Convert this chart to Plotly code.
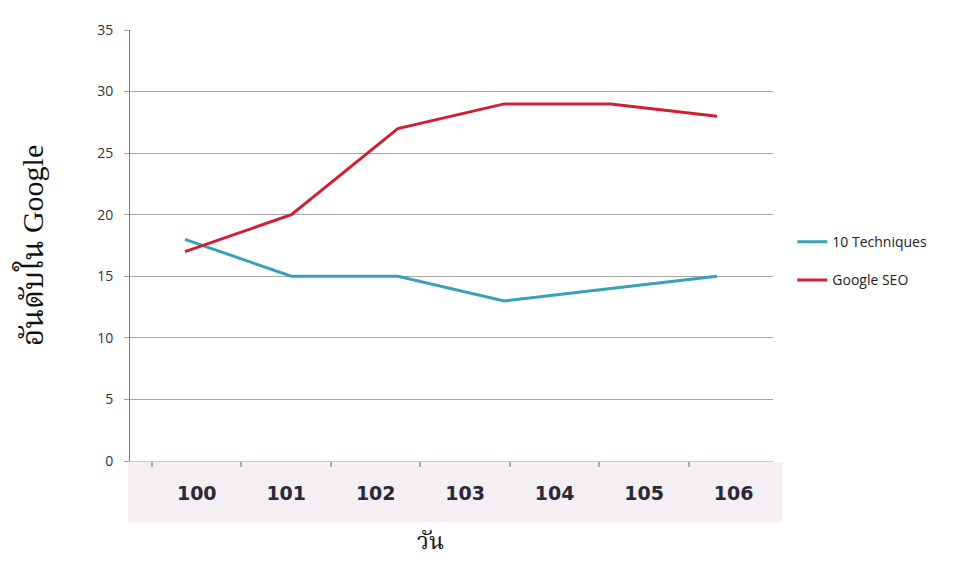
import plotly.graph_objects as go

days = ["100", "101", "102", "103", "104", "105", "106"]
point_idx = [0, 1, 2, 3, 4, 5]
techniques = [18, 15, 15, 13, 14, 15]
google_seo = [17, 20, 27, 29, 29, 28]
y_ticks = [0, 5, 10, 15, 20, 25, 30, 35]

TEAL = "#37a2b7"
RED = "#d21f30"
GRID = "#a6a6a6"

fig = go.Figure()
fig.add_trace(go.Scatter(x=point_idx, y=techniques, mode="lines", name="10 Techniques",
                         legendgroup="a", line=dict(color=TEAL, width=3)))
fig.add_trace(go.Scatter(x=point_idx, y=google_seo, mode="lines", name="Google SEO",
                         legendgroup="b", line=dict(color=RED, width=3)))
# invisible trace to carry the category axis of day labels
fig.add_trace(go.Scatter(x=days, y=[None] * len(days), xaxis="x2", mode="lines",
                         showlegend=False, hoverinfo="skip"))

fig.update_layout(
    width=942, height=547,
    margin=dict(l=122, r=177, t=12, b=94),
    paper_bgcolor="white", plot_bgcolor="white",
    font=dict(family="Open Sans, DejaVu Sans, sans-serif", color="#333333"),
    showlegend=True,
    legend=dict(x=1.03, y=0.545, xanchor="left", yanchor="top",
                font=dict(size=14, color="#222222"), tracegroupgap=17,
                bgcolor="rgba(0,0,0,0)", itemwidth=30),
    xaxis=dict(range=[-0.517, 5.526], showgrid=False, zeroline=False,
               showticklabels=False, ticks="", showline=False),
    xaxis2=dict(type="category", categoryorder="array", categoryarray=days,
                overlaying="x", anchor="y", side="bottom",
                range=[-0.746, 6.44], tickson="boundaries", ticks="outside",
                ticklen=5, tickwidth=2, tickcolor="#aaaaaa",
                showline=True, linecolor="#c8c8c8", linewidth=1,
                showgrid=False, zeroline=False, ticklabelstandoff=15,
                tickfont=dict(family="DejaVu Sans", size=19, color="#2b2838",
                              weight="bold")),
    yaxis=dict(range=[0, 35], tickvals=y_ticks, showgrid=True, gridcolor=GRID,
               gridwidth=1, zeroline=False, showline=True, linecolor="#777777",
               linewidth=1, ticks="outside", ticklen=5, tickcolor=GRID,
               ticklabelstandoff=8,
               tickfont=dict(size=14, color="#333333"),
               title=dict(text="อันดับใน Google", standoff=44,
                          font=dict(family="Liberation Serif, Noto Serif Thai, serif",
                                    size=30, color="#111111"))),
    shapes=[dict(type="rect", xref="paper", yref="paper", x0=-0.003, x1=1.015,
                 y0=-0.003, y1=-0.142, fillcolor="#f4eff3", line=dict(width=0),
                 layer="below")],
    annotations=[dict(text="วัน", xref="paper", yref="paper", x=0.467, y=-0.187,
                      xanchor="center", yanchor="middle", showarrow=False,
                      font=dict(family="Liberation Serif, Noto Serif Thai, serif",
                                size=23, color="#111111"))],
)

fig.write_html("out.html")
